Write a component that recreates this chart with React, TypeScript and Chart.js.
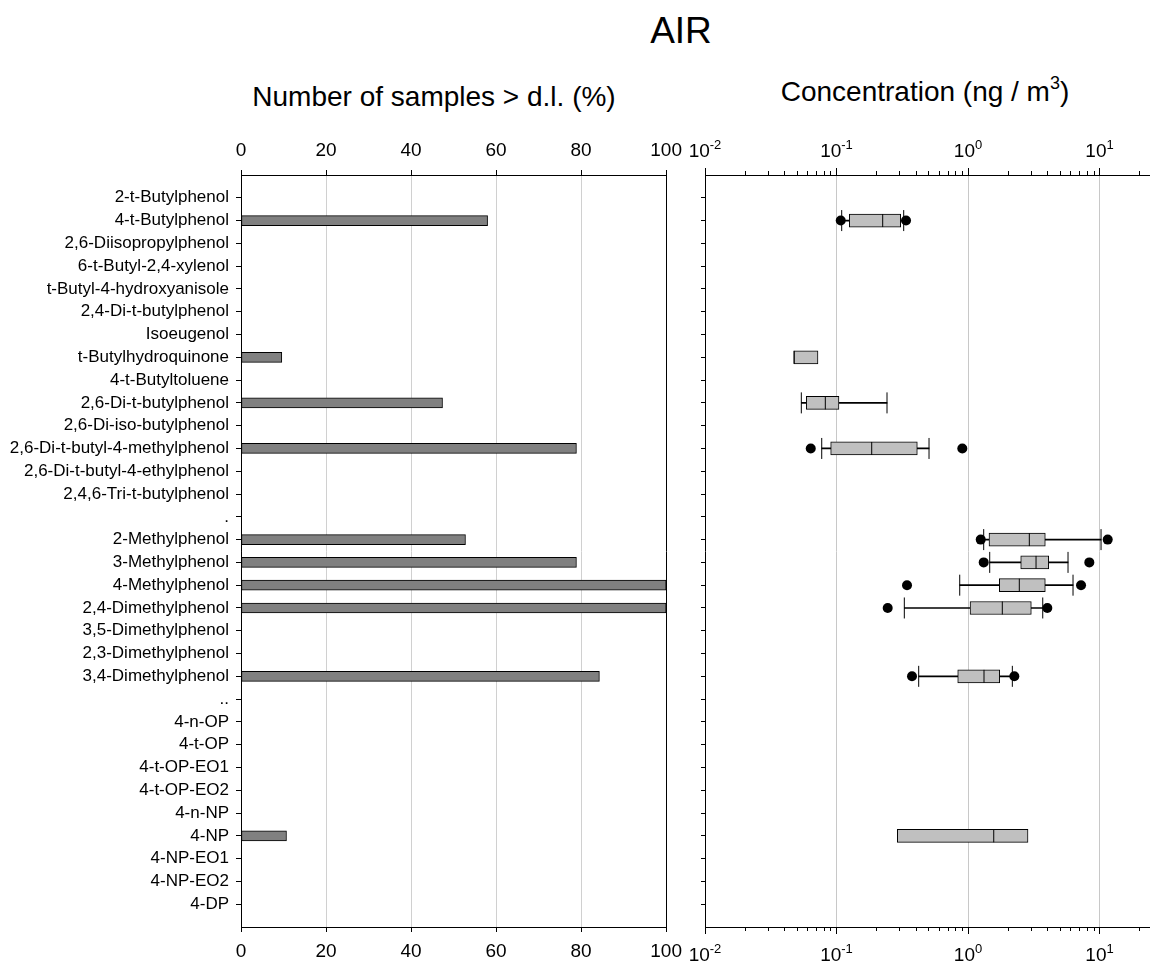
import React, { useEffect, useRef } from 'react';
import { Chart, registerables } from 'chart.js';

Chart.register(...registerables);

const FONT = '"Liberation Sans", Arial, Helvetica, sans-serif';

const categories = [
  '2-t-Butylphenol', '4-t-Butylphenol', '2,6-Diisopropylphenol', '6-t-Butyl-2,4-xylenol',
  't-Butyl-4-hydroxyanisole', '2,4-Di-t-butylphenol', 'Isoeugenol', 't-Butylhydroquinone',
  '4-t-Butyltoluene', '2,6-Di-t-butylphenol', '2,6-Di-iso-butylphenol', '2,6-Di-t-butyl-4-methylphenol',
  '2,6-Di-t-butyl-4-ethylphenol', '2,4,6-Tri-t-butylphenol', '.', '2-Methylphenol', '3-Methylphenol',
  '4-Methylphenol', '2,4-Dimethylphenol', '3,5-Dimethylphenol', '2,3-Dimethylphenol', '3,4-Dimethylphenol',
  '..', '4-n-OP', '4-t-OP', '4-t-OP-EO1', '4-t-OP-EO2', '4-n-NP', '4-NP', '4-NP-EO1', '4-NP-EO2', '4-DP',
];

// % of samples above detection limit
const detectedPercent = [
  0, 58, 0, 0, 0, 0, 0, 9.6, 0, 47.4, 0, 78.9, 0, 0, 0, 52.8, 78.9, 100, 100, 0, 0, 84.3, 0, 0, 0, 0, 0, 0, 10.7, 0, 0, 0,
];

const percentTicks = [0, 20, 40, 60, 80, 100];

// Concentration box plots (ng / m3)
const boxCategories = [
  '4-t-Butylphenol', 't-Butylhydroquinone', '2,6-Di-t-butylphenol', '2,6-Di-t-butyl-4-methylphenol',
  '2-Methylphenol', '3-Methylphenol', '4-Methylphenol', '2,4-Dimethylphenol', '3,4-Dimethylphenol', '4-NP',
];
const whiskerLow = [0.1095, null, 0.054, 0.0772, 1.316, 1.462, 0.865, 0.3278, 0.4217, null];
const quartile1 = [0.1251, 0.0475, 0.0589, 0.0903, 1.444, 2.516, 1.73, 1.036, 0.835, 0.29];
const medianValue = [0.2245, 0.0475, 0.0822, 0.1852, 2.925, 3.29, 2.455, 1.823, 1.323, 1.569];
const quartile3 = [0.3077, 0.0723, 0.1044, 0.4116, 3.87, 4.109, 3.87, 3.029, 1.742, 2.859];
const whiskerHigh = [0.3243, null, 0.2421, 0.5053, 10.27, 5.761, 6.288, 3.7, 2.173, null];
const outlierLow = [0.1077, null, null, 0.0637, 1.249, 1.316, 0.3437, 0.2451, 0.375, null];
const outlierHigh = [0.3377, null, null, 0.905, 11.54, 8.363, 7.234, 4.009, 2.25, null];

const decadeExponents = [-2, -1, 0, 1];
const minorMultipliers = [1, 2, 3, 4, 5, 6, 7, 8, 9];
const concMin = 0.01;
const concMax = 24.2;

const rowValues = categories.map((_, i) => i + 1);
const rowOf = (name: string) => categories.indexOf(name) + 1;
const logTickValues = decadeExponents
  .flatMap((e) => minorMultipliers.map((m) => m * Math.pow(10, e)))
  .filter((v) => v <= concMax);
const isDecade = (v: number | undefined) =>
  v !== undefined && v > 0 && Math.abs(Math.log10(v) - Math.round(Math.log10(v))) < 1e-6;

const TICK_FONT = 19;
const CAT_FONT = 17;
const GRID_GRAY = '#d0d0d0';

function leftConfig(): any {
  const bars = categories
    .map((_, i) => ({ x: detectedPercent[i], y: i + 1 }))
    .filter((d) => d.x > 0);
  const xAxis = (position: string, onArea: boolean, h: number) => ({
    type: 'linear',
    position,
    min: 0,
    max: 100,
    offset: false,
    beginAtZero: true,
    afterBuildTicks: (s: any) => {
      s.ticks = percentTicks.map((v) => ({ value: v }));
    },
    ticks: { font: { size: TICK_FONT, family: FONT }, color: '#000', padding: 8, maxRotation: 0, autoSkip: false },
    grid: {
      offset: false,
      drawOnChartArea: onArea,
      color: (c: any) => (c.tick && (c.tick.value === 0 || c.tick.value === 100) ? '#000' : GRID_GRAY),
      lineWidth: 1,
      tickLength: 5,
      tickColor: '#000',
    },
    border: { color: '#000', width: 1 },
    afterFit: (s: any) => {
      s.height = h;
    },
  });
  return {
    type: 'bar',
    data: {
      datasets: [
        {
          data: bars,
          xAxisID: 'x',
          yAxisID: 'y',
          backgroundColor: '#808080',
          borderColor: '#000',
          borderWidth: 1,
          borderSkipped: false,
          barThickness: 10,
          grouped: false,
        },
      ],
    },
    options: {
      indexAxis: 'y',
      responsive: false,
      animation: false,
      devicePixelRatio: 1,
      layout: { autoPadding: false, padding: { left: 0, right: 23, top: 0, bottom: 0 } },
      plugins: { legend: { display: false }, tooltip: { enabled: false } },
      scales: {
        x: xAxis('top', true, 55),
        x2: xAxis('bottom', false, 36),
        y: {
          type: 'linear',
          min: 0,
          max: 33,
          reverse: true,
          offset: false,
          afterBuildTicks: (s: any) => {
            s.ticks = rowValues.map((v) => ({ value: v }));
          },
          ticks: {
            callback: (v: any) => categories[Number(v) - 1] ?? '',
            font: { size: CAT_FONT, family: FONT },
            color: '#000',
            padding: 7,
            autoSkip: false,
          },
          grid: { offset: false, drawOnChartArea: false, tickLength: 5, tickColor: '#000' },
          border: { color: '#000', width: 1 },
          afterFit: (s: any) => {
            s.width = 241;
          },
        },
      },
    },
  };
}

const logAxisPlugin = {
  id: 'logAxisDecor',
  afterDraw(chart: any) {
    const ctx = chart.ctx;
    ctx.save();
    ctx.strokeStyle = '#000';
    ctx.lineWidth = 1;
    ctx.fillStyle = '#000';
    ['x', 'x2'].forEach((id) => {
      const s = chart.scales[id];
      const top = s.position === 'top';
      s.ticks.forEach((t: any) => {
        if (isDecade(t.value)) return;
        const px = Math.round(s.getPixelForValue(t.value)) + 0.5;
        const y0 = top ? s.bottom : s.top;
        ctx.beginPath();
        ctx.moveTo(px, y0);
        ctx.lineTo(px, top ? y0 - 4 : y0 + 4);
        ctx.stroke();
      });
      const baseline = top ? s.bottom - 18 : s.top + 34;
      decadeExponents.forEach((e) => {
        const px = s.getPixelForValue(Math.pow(10, e));
        ctx.font = `${TICK_FONT}px ${FONT}`;
        const w1 = ctx.measureText('10').width;
        ctx.font = `13px ${FONT}`;
        const expText = String(e);
        const w2 = ctx.measureText(expText).width;
        const x0 = px - (w1 + w2) / 2;
        ctx.textBaseline = 'alphabetic';
        ctx.textAlign = 'left';
        ctx.font = `${TICK_FONT}px ${FONT}`;
        ctx.fillText('10', x0, baseline);
        ctx.font = `13px ${FONT}`;
        ctx.fillText(expText, x0 + w1, baseline - 8);
      });
    });
    ctx.restore();
  },
};

function rightConfig(): any {
  const whiskers: any[] = [];
  const boxes: any[] = [];
  const medians: any[] = [];
  const caps: any[] = [];
  const outliers: any[] = [];
  boxCategories.forEach((name, i) => {
    const y = rowOf(name);
    boxes.push({ x: [quartile1[i], quartile3[i]], y });
    medians.push({ x: medianValue[i], y });
    const wl = whiskerLow[i];
    const wh = whiskerHigh[i];
    if (wl !== null && wh !== null) {
      whiskers.push({ x: [wl, wh], y });
      caps.push({ x: wl, y });
      caps.push({ x: wh, y });
    }
    if (outlierLow[i] !== null) outliers.push({ x: outlierLow[i], y });
    if (outlierHigh[i] !== null) outliers.push({ x: outlierHigh[i], y });
  });
  const xAxis = (position: string, onArea: boolean, h: number) => ({
    type: 'logarithmic',
    position,
    min: concMin,
    max: concMax,
    offset: false,
    beginAtZero: false,
    afterBuildTicks: (s: any) => {
      s.ticks = logTickValues.map((v) => ({ value: v }));
    },
    ticks: { callback: () => '', autoSkip: false, padding: 8, maxRotation: 0 },
    grid: {
      offset: false,
      drawOnChartArea: onArea,
      color: (c: any) => (c.tick && isDecade(c.tick.value) && c.tick.value > concMin ? '#c8c8c8' : 'rgba(0,0,0,0)'),
      tickColor: (c: any) => (c.tick && isDecade(c.tick.value) ? '#000' : 'rgba(0,0,0,0)'),
      tickLength: 7,
      lineWidth: 1,
    },
    border: { color: '#000', width: 1 },
    afterFit: (s: any) => {
      s.height = h;
    },
  });
  return {
    type: 'bar',
    data: {
      datasets: [
        {
          type: 'bar',
          data: whiskers,
          xAxisID: 'x',
          yAxisID: 'y',
          backgroundColor: '#000',
          borderWidth: 0,
          barThickness: 1,
          grouped: false,
          order: 4,
        },
        {
          type: 'bar',
          data: boxes,
          xAxisID: 'x',
          yAxisID: 'y',
          backgroundColor: '#c0c0c0',
          borderColor: '#000',
          borderWidth: 1,
          borderSkipped: false,
          barThickness: 13,
          grouped: false,
          order: 3,
        },
        {
          type: 'scatter',
          data: medians,
          xAxisID: 'x',
          yAxisID: 'y',
          pointStyle: 'line',
          rotation: 90,
          radius: 6.5,
          borderColor: '#000',
          borderWidth: 1,
          order: 2,
        },
        {
          type: 'scatter',
          data: caps,
          xAxisID: 'x',
          yAxisID: 'y',
          pointStyle: 'line',
          rotation: 90,
          radius: 10.5,
          borderColor: '#000',
          borderWidth: 1,
          order: 1,
        },
        {
          type: 'scatter',
          data: outliers,
          xAxisID: 'x',
          yAxisID: 'y',
          pointStyle: 'circle',
          radius: 5,
          backgroundColor: '#000',
          borderColor: '#000',
          borderWidth: 0,
          order: 0,
        },
      ],
    },
    options: {
      indexAxis: 'y',
      responsive: false,
      animation: false,
      devicePixelRatio: 1,
      layout: { autoPadding: false, padding: 0 },
      plugins: { legend: { display: false }, tooltip: { enabled: false } },
      scales: {
        x: xAxis('top', true, 55),
        x2: xAxis('bottom', false, 36),
        y: {
          type: 'linear',
          min: 0,
          max: 33,
          reverse: true,
          offset: false,
          afterBuildTicks: (s: any) => {
            s.ticks = rowValues.map((v) => ({ value: v }));
          },
          ticks: { callback: () => '', padding: 0, autoSkip: false },
          grid: { offset: false, drawOnChartArea: false, tickLength: 4, tickColor: '#000' },
          border: { color: '#000', width: 1 },
          afterFit: (s: any) => {
            s.width = 15;
          },
        },
      },
    },
    plugins: [logAxisPlugin],
  };
}

export default function App() {
  const leftRef = useRef<HTMLCanvasElement>(null);
  const rightRef = useRef<HTMLCanvasElement>(null);

  useEffect(() => {
    const left = new Chart(leftRef.current as HTMLCanvasElement, leftConfig());
    const right = new Chart(rightRef.current as HTMLCanvasElement, rightConfig());
    return () => {
      left.destroy();
      right.destroy();
    };
  }, []);

  const text: React.CSSProperties = {
    position: 'absolute',
    fontFamily: FONT,
    color: '#000',
    lineHeight: 1,
    whiteSpace: 'nowrap',
    textAlign: 'center',
  };

  return (
    <div style={{ position: 'absolute', left: 0, top: 0, width: 1150, height: 963, background: '#fff', overflow: 'hidden' }}>
      <div style={{ ...text, left: 481, width: 400, top: 12, fontSize: 37 }}>AIR</div>
      <div style={{ ...text, left: 134, width: 600, top: 83, fontSize: 28 }}>Number of samples &gt; d.l. (%)</div>
      <div style={{ ...text, left: 625, width: 600, top: 78, fontSize: 28 }}>
        Concentration (ng / m<span style={{ fontSize: 18, position: 'relative', top: -12 }}>3</span>)
      </div>
      <canvas ref={leftRef} width={690} height={843} style={{ position: 'absolute', left: 0, top: 120 }} />
      <canvas ref={rightRef} width={460} height={843} style={{ position: 'absolute', left: 690, top: 120 }} />
    </div>
  );
}
